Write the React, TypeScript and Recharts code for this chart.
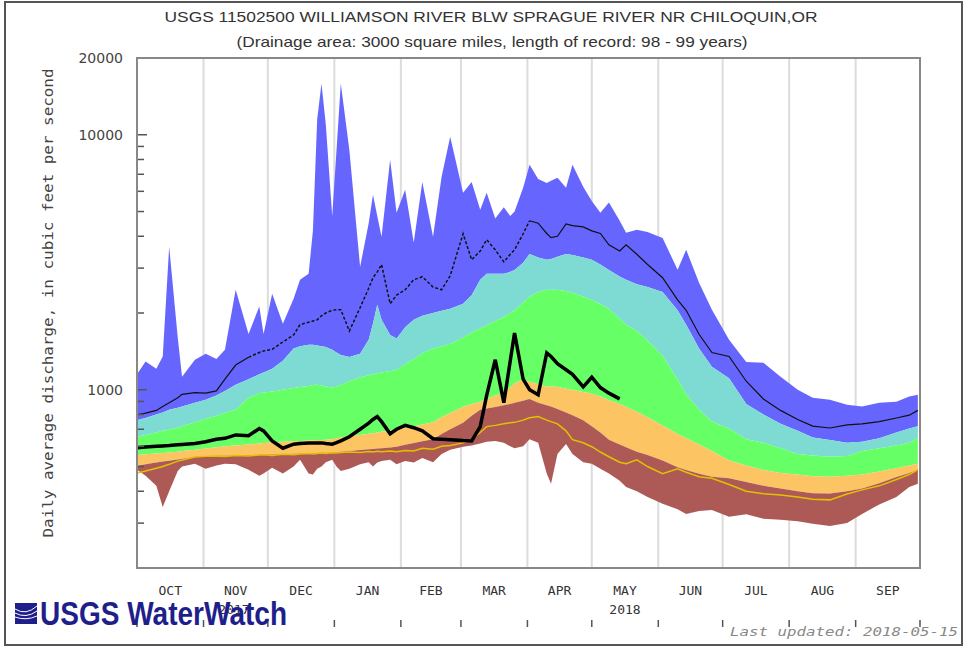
import React from 'react';
import { ComposedChart, Area, Line, XAxis, YAxis, CartesianGrid } from 'recharts';

// day of water year (0 = Oct 1) for every sample below
const DAYS = [
  0, 4, 9, 12, 15, 19, 21, 27, 32, 37,
  41, 46, 52, 57, 59, 63, 68, 73, 76, 80,
  82, 84, 86, 88, 91, 93, 95, 99, 104, 108,
  110, 112, 114, 118, 121, 125, 129, 133, 138, 142,
  146, 152, 156, 160, 163, 167, 171, 174, 176, 180,
  183, 187, 191, 193, 196, 200, 203, 208, 212, 216,
  220, 225, 228, 233, 238, 245, 252, 256, 262, 268,
  276, 284, 292, 300, 308, 315, 323, 331, 338, 346,
  354, 360, 364,
];

const MAX_Q = [
  1150, 1290, 1210, 1350, 3640, 1600, 1125, 1310, 1385, 1320,
  1435, 2470, 1655, 2120, 1655, 2380, 1815, 2275, 2700, 2850,
  4200, 11500, 15900, 11000, 4800, 8700, 15900, 8700, 3035, 4500,
  5820, 4800, 3980, 7980, 4940, 6085, 3780, 6530, 3980, 6840,
  9830, 5930, 6530, 5080, 5930, 4700, 5200, 4800, 5000, 6200,
  7630, 6700, 6470, 6600, 6780, 6200, 7630, 6250, 5500, 4940,
  5420, 4600, 4130, 4240, 4160, 3940, 2955, 3540, 2630, 2060,
  1571, 1285, 1275, 1125, 1000, 930, 914, 873, 860, 890,
  897, 940, 955,
];

const P90 = [
  760, 775, 800, 815, 835, 850, 860, 890, 914, 950,
  990, 1047, 1100, 1150, 1170, 1210, 1300, 1450, 1480, 1500,
  1500, 1490, 1480, 1470, 1435, 1400, 1370, 1345, 1385, 1570,
  1815, 2155, 1880, 1640, 1590, 1760, 1880, 1950, 2000, 2040,
  2080, 2175, 2350, 2700, 2850, 2850, 2850, 2900, 2950, 3150,
  3410, 3300, 3235, 3260, 3320, 3410, 3380, 3300, 3235, 3100,
  2950, 2780, 2700, 2590, 2530, 2420, 2050, 1800, 1450, 1230,
  1110, 880, 800, 735, 690, 650, 635, 620, 625, 645,
  680, 705, 720,
];

const P75 = [
  654, 665, 680, 690, 697, 710, 720, 745, 770, 790,
  810, 835, 930, 970, 975, 985, 1000, 1015, 1025, 1035,
  1045, 1047, 1040, 1030, 1020, 1030, 1045, 1080, 1120, 1140,
  1150, 1160, 1170, 1185, 1198, 1260, 1320, 1390, 1450, 1480,
  1515, 1600, 1680, 1740, 1790, 1860, 1930, 2000, 2050, 2200,
  2316, 2420, 2467, 2467, 2467, 2440, 2400, 2320, 2250, 2170,
  2080, 1900, 1800, 1700, 1560, 1360, 1100, 960, 835, 750,
  705, 640, 620, 590, 560, 552, 546, 550, 575, 590,
  605, 620, 650,
];

const P25 = [
  555, 558, 562, 565, 567, 572, 575, 582, 588, 595,
  600, 605, 610, 615, 619, 622, 625, 628, 630, 632,
  634, 635, 636, 637, 640, 645, 650, 658, 665, 672,
  676, 680, 684, 690, 697, 708, 720, 730, 745, 780,
  810, 858, 880, 897, 920, 950, 975, 1020, 1060, 1100,
  1075, 1050, 1030, 1028, 1027, 1010, 1000, 980, 965, 940,
  910, 880, 858, 820, 780, 725, 670, 645, 610, 575,
  528, 505, 485, 472, 465, 458, 456, 460, 465, 478,
  492, 505, 513,
];

const P10 = [
  503, 510, 518, 523, 527, 533, 536, 545, 548, 550,
  551, 552, 554, 555, 556, 557, 559, 561, 562, 563,
  564, 565, 566, 566, 567, 569, 572, 575, 580, 584,
  586, 588, 590, 594, 598, 608, 618, 628, 640, 670,
  700, 742, 790, 835, 845, 855, 870, 880, 890, 905,
  920, 890, 870, 860, 840, 815, 795, 760, 720, 680,
  637, 610, 595, 572, 555, 528, 497, 485, 468, 456,
  450, 435, 420, 410, 400, 393, 392, 400, 410, 430,
  455, 472, 486,
];

const MIN_Q = [
  486, 460, 420, 347, 400, 480, 500, 513, 490, 505,
  513, 510, 486, 460, 470, 495, 470, 500, 531, 470,
  465, 490, 500, 520, 531, 500, 480, 490, 510, 520,
  500, 518, 525, 531, 510, 525, 518, 540, 520, 560,
  582, 598, 605, 615, 625, 630, 620, 600, 590, 600,
  640, 620, 470, 428, 560, 613, 560, 520, 513, 490,
  469, 440, 416, 400, 380, 357, 340, 326, 335, 338,
  318, 325, 312, 309, 305, 298, 292, 300, 326, 355,
  380, 416, 428,
];

const YELLOW = [
  472, 480, 492, 500, 510, 525, 530, 545, 548, 550,
  548, 552, 550, 555, 556, 552, 558, 556, 560, 562,
  560, 563, 565, 562, 566, 565, 567, 570, 568, 572,
  570, 574, 572, 575, 572, 578, 575, 590, 585, 600,
  605, 619, 640, 680, 717, 725, 735, 742, 745, 760,
  777, 785, 760, 750, 735, 690, 637, 620, 598, 570,
  546, 520, 513, 531, 500, 469, 490, 475, 456, 450,
  425, 400, 391, 387, 380, 372, 370, 390, 405, 420,
  445, 465, 486,
];

const MEAN = [
  798, 810, 830, 860, 890, 930, 960, 975, 970, 990,
  1100, 1250, 1340, 1400, 1420, 1440, 1540, 1640, 1800, 1840,
  1860, 1880, 1950, 2000, 2050, 2060, 2060, 1700, 2100, 2500,
  2750, 2900, 3100, 2175, 2350, 2467, 2700, 2775, 2530, 2467,
  2800, 4090, 3235, 3500, 3875, 3540, 3175, 3400, 3540, 4090,
  4600, 4500, 4100, 3950, 4000, 4470, 4400, 4350, 4200, 4100,
  3700, 3500, 3700, 3400, 3100, 2750, 2250, 2050, 1650, 1400,
  1350, 1080, 920, 830, 765, 720, 708, 728, 735, 750,
  775, 795, 830,
];

// water year 2018, through 2018-05-14
const CURRENT = [
  592, 596, 600, 602, 604, 608, 610, 615, 625, 640,
  645, 665, 660, 705, 690, 630, 590, 612, 615, 618,
  618, 619, 619, 615, 612, 620, 630, 654, 700, 740,
  765, 785, 750, 672, 700, 725, 710, 690, 643, 640,
  637, 632, 630, 717, 950, 1311, 890, 1300, 1670, 1100,
  1000, 955, 1395, 1350, 1265, 1198, 1150, 1027, 1120, 1020,
  970, 921,
];

const MONTHS = ['OCT', 'NOV', 'DEC', 'JAN', 'FEB', 'MAR', 'APR', 'MAY', 'JUN', 'JUL', 'AUG', 'SEP'];
const MONTH_START = [0, 31, 61, 92, 123, 151, 182, 212, 243, 273, 304, 335, 365];
const MONTH_MID = MONTHS.map((_, i) => (MONTH_START[i] + MONTH_START[i + 1]) / 2);

const Y_TICKS = [200, 300, 400, 500, 600, 700, 800, 900, 1000, 2000, 3000, 4000, 5000, 6000, 7000, 8000, 9000, 10000, 20000];
const Y_LABELS = [1000, 10000, 20000];

const W = 965;
const H = 649;
const PLOT_L = 137;
const PLOT_R = 920;
const PLOT_T = 58;
const PLOT_B = 568;
const LABEL_AXIS_H = 60;

const BLUE = '#6666ff';
const CYAN = '#7ddbd3';
const GREEN = '#66ff66';
const ORANGE = '#fcc463';
const BROWN = '#ad5a57';
const GOLD = '#e3c000';

const MONO = "'DejaVu Sans Mono', 'Liberation Mono', monospace";
const NARROW = "'Liberation Sans Narrow', 'Arial Narrow', 'Liberation Sans', Arial, sans-serif";

const rows = DAYS.map((day, i) => ({
  day,
  brown: [MIN_Q[i], P10[i]],
  orange: [P10[i], P25[i]],
  green: [P25[i], P75[i]],
  cyan: [P75[i], P90[i]],
  blue: [P90[i], MAX_Q[i]],
  yellow: YELLOW[i],
  meanSolid: day <= 52 || day >= 183 ? MEAN[i] : null,
  meanDash: day >= 52 && day <= 183 ? MEAN[i] : null,
  current: i < CURRENT.length ? CURRENT[i] : null,
}));

const YTick = ({ x, y, payload }: any) => {
  const major = Y_LABELS.includes(payload.value);
  return (
    <g>
      <line x1={x} x2={x + (major ? 10 : 7)} y1={y} y2={y} stroke="#555" strokeWidth={1.5} />
      {major && (
        <text x={x - 14} y={y} dy={5} textAnchor="end" fontSize={14} fill="#444" fontFamily="'DejaVu Sans', sans-serif">
          {payload.value}
        </text>
      )}
    </g>
  );
};

const BoundaryTick = ({ x, y }: any) => (
  <line x1={x} x2={x} y1={y - 1} y2={y - 8} stroke="#555" strokeWidth={1.5} />
);

const MonthTick = ({ x, y, payload }: any) => {
  const idx = MONTH_MID.indexOf(payload.value);
  return (
    <text x={x} y={y + 27} textAnchor="middle" fontSize={13} fill="#333" fontFamily={MONO}>
      {MONTHS[idx]}
    </text>
  );
};

export default function App() {
  const bands = [
    { key: 'blue', color: BLUE },
    { key: 'cyan', color: CYAN },
    { key: 'green', color: GREEN },
    { key: 'orange', color: ORANGE },
    { key: 'brown', color: BROWN },
  ];

  return (
    <div style={{ position: 'absolute', left: 0, top: 0, width: W, height: H, background: '#fff', overflow: 'hidden' }}>
      <ComposedChart
        width={W}
        height={H}
        data={rows}
        margin={{ top: PLOT_T, right: W - PLOT_R, left: 0, bottom: H - PLOT_B - 1 - LABEL_AXIS_H }}
      >
        <CartesianGrid xAxisId="m" horizontal={false} stroke="#dcdcdc" strokeWidth={2} />
        <XAxis
          xAxisId="m"
          dataKey="day"
          type="number"
          domain={[0, 365]}
          ticks={MONTH_START}
          interval={0}
          allowDataOverflow
          height={1}
          tickSize={0}
          tickMargin={0}
          axisLine={false}
          tickLine={false}
          tick={BoundaryTick}
        />
        <XAxis
          xAxisId="lab"
          dataKey="day"
          type="number"
          domain={[0, 365]}
          ticks={MONTH_MID}
          interval={0}
          allowDataOverflow
          height={LABEL_AXIS_H}
          tickSize={0}
          tickMargin={0}
          axisLine={false}
          tickLine={false}
          tick={MonthTick}
        />
        <YAxis
          type="number"
          scale="log"
          domain={[200, 20000]}
          ticks={Y_TICKS}
          interval={0}
          allowDataOverflow
          width={PLOT_L}
          tickSize={0}
          tickMargin={0}
          axisLine={false}
          tickLine={false}
          tick={YTick}
        />

        {bands.map((b) => (
          <Area
            key={b.key}
            xAxisId="m"
            dataKey={b.key}
            type="linear"
            stroke="none"
            fill={b.color}
            fillOpacity={1}
            isAnimationActive={false}
          />
        ))}

        <Line xAxisId="m" dataKey="yellow" type="linear" stroke={GOLD} strokeWidth={1.5} dot={false} isAnimationActive={false} />
        <Line xAxisId="m" dataKey="meanSolid" type="linear" stroke="#111" strokeWidth={1.2} dot={false} isAnimationActive={false} />
        <Line
          xAxisId="m"
          dataKey="meanDash"
          type="linear"
          stroke="#111"
          strokeWidth={1.5}
          strokeDasharray="3 2"
          dot={false}
          isAnimationActive={false}
        />
        <Line xAxisId="m" dataKey="current" type="linear" stroke="#000" strokeWidth={3.5} dot={false} isAnimationActive={false} />
      </ComposedChart>

      <svg width={W} height={H} style={{ position: 'absolute', left: 0, top: 0, pointerEvents: 'none' }}>
        <rect x={5} y={2} width={957} height={643} fill="none" stroke="#555" strokeWidth={2} />
        <rect x={PLOT_L} y={PLOT_T} width={PLOT_R - PLOT_L} height={PLOT_B - PLOT_T} fill="none" stroke="#888" strokeWidth={2} />

        <text x={491} y={22} textAnchor="middle" fontSize={15} fill="#333" fontFamily={NARROW} textLength={653} lengthAdjust="spacingAndGlyphs">
          USGS 11502500 WILLIAMSON RIVER BLW SPRAGUE RIVER NR CHILOQUIN,OR
        </text>
        <text x={492} y={47} textAnchor="middle" fontSize={15} fill="#333" fontFamily={NARROW} textLength={511} lengthAdjust="spacingAndGlyphs">
          (Drainage area: 3000 square miles, length of record: 98 - 99 years)
        </text>

        <text
          transform="translate(53,303) rotate(-90)"
          textAnchor="middle"
          fontSize={14}
          fill="#444"
          fontFamily={MONO}
          textLength={469}
          lengthAdjust="spacingAndGlyphs"
        >
          Daily average discharge, in cubic feet per second
        </text>

        <text x={234} y={614} textAnchor="middle" fontSize={13} fill="#333" fontFamily={MONO}>2017</text>
        <text x={625} y={614} textAnchor="middle" fontSize={13} fill="#333" fontFamily={MONO}>2018</text>

        {/* WaterWatch logo */}
        <g>
          <rect x={15} y={603} width={22} height={21} fill="#1f1f8c" />
          <path d="M15 609 Q26 616 37 606" stroke="#fff" strokeWidth={1} fill="none" />
          <path d="M15 613 Q26 619 37 611" stroke="#fff" strokeWidth={1} fill="none" />
          <path d="M15 617 Q26 621 37 616" stroke="#fff" strokeWidth={1} fill="none" />
          <text
            x={40}
            y={625}
            fontSize={33}
            fontWeight="bold"
            fill="#1f1f8c"
            fontFamily="'Liberation Sans', Arial, sans-serif"
            textLength={247}
            lengthAdjust="spacingAndGlyphs"
          >
            USGS WaterWatch
          </text>
        </g>

        <text
          x={730}
          y={636}
          fontSize={13}
          fontStyle="italic"
          fill="#888"
          fontFamily={MONO}
          textLength={228}
          lengthAdjust="spacingAndGlyphs"
        >
          Last updated: 2018-05-15
        </text>
      </svg>
    </div>
  );
}
